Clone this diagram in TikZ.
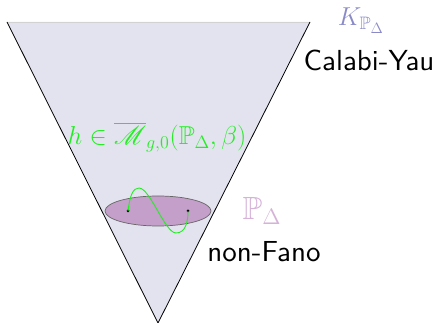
\documentclass[tikz,border=0pt]{standalone}
\usepackage{amssymb}
\usepackage{mathrsfs}
\usepackage{fontspec}
\newfontfamily\lmsansten{lmsans10-regular.otf}
\usetikzlibrary{shapes.geometric}
\definecolor{conefill}{HTML}{E3E3EF}
\definecolor{klab}{HTML}{8A8AC8}
\definecolor{plab}{HTML}{D6B2D9}
\definecolor{ellfill}{HTML}{C49FC9}
\definecolor{curvegreen}{HTML}{22EE22}
\tikzset{
  lab/.style={inner sep=0pt, transform shape, font=\fontsize{20.74}{24}\selectfont},
  txt/.style={inner sep=0pt, font=\lmsansten\fontsize{29}{34}\selectfont},
  dot/.style={circle, fill=black, inner sep=0pt, minimum size=3pt},
}
\begin{document}
\begin{tikzpicture}[x=1pt,y=1pt]
\useasboundingbox (0,0) rectangle (436,323);
\coordinate (tl) at (7,301);
\coordinate (tr) at (310,301);
\coordinate (bt) at (158,0);
\fill[conefill] (tl) -- (tr) -- (bt) -- cycle;
\draw[gray!35] (tl) -- (tr);
\draw[black, line width=0.8pt] (tl) -- (bt) -- (tr);
\node[ellipse, draw=gray!80!black, fill=ellfill, minimum width=106pt, minimum height=30pt, inner sep=0pt, line width=0.7pt] (ell) at (158,112) {};
\node[dot] (p1) at (128,112) {};
\node[dot] (p2) at (188,112) {};
\draw[curvegreen, line width=0.9pt] (p1.center) .. controls (130,128) and (133,135) .. (139,135) .. controls (150,135) and (165,90) .. (176,90) .. controls (186,90) and (188,102) .. (p2.center);
\node[lab, text=klab, scale=1.25] (K) at (361,302) {$K_{\mathbb{P}_\Delta}$};
\node[txt] (cy) at (369,263) {Calabi-Yau};
\node[lab, text=curvegreen, scale=1.25] (h) at (157,186) {$h\in\overline{\mathscr{M}}_{g,0}(\mathbb{P}_\Delta,\beta)$};
\node[lab, text=plab, scale=1.55] (P) at (262,112) {$\mathbb{P}_\Delta$};
\node[txt] (nf) at (264,71) {non-Fano};
\end{tikzpicture}
\end{document}
